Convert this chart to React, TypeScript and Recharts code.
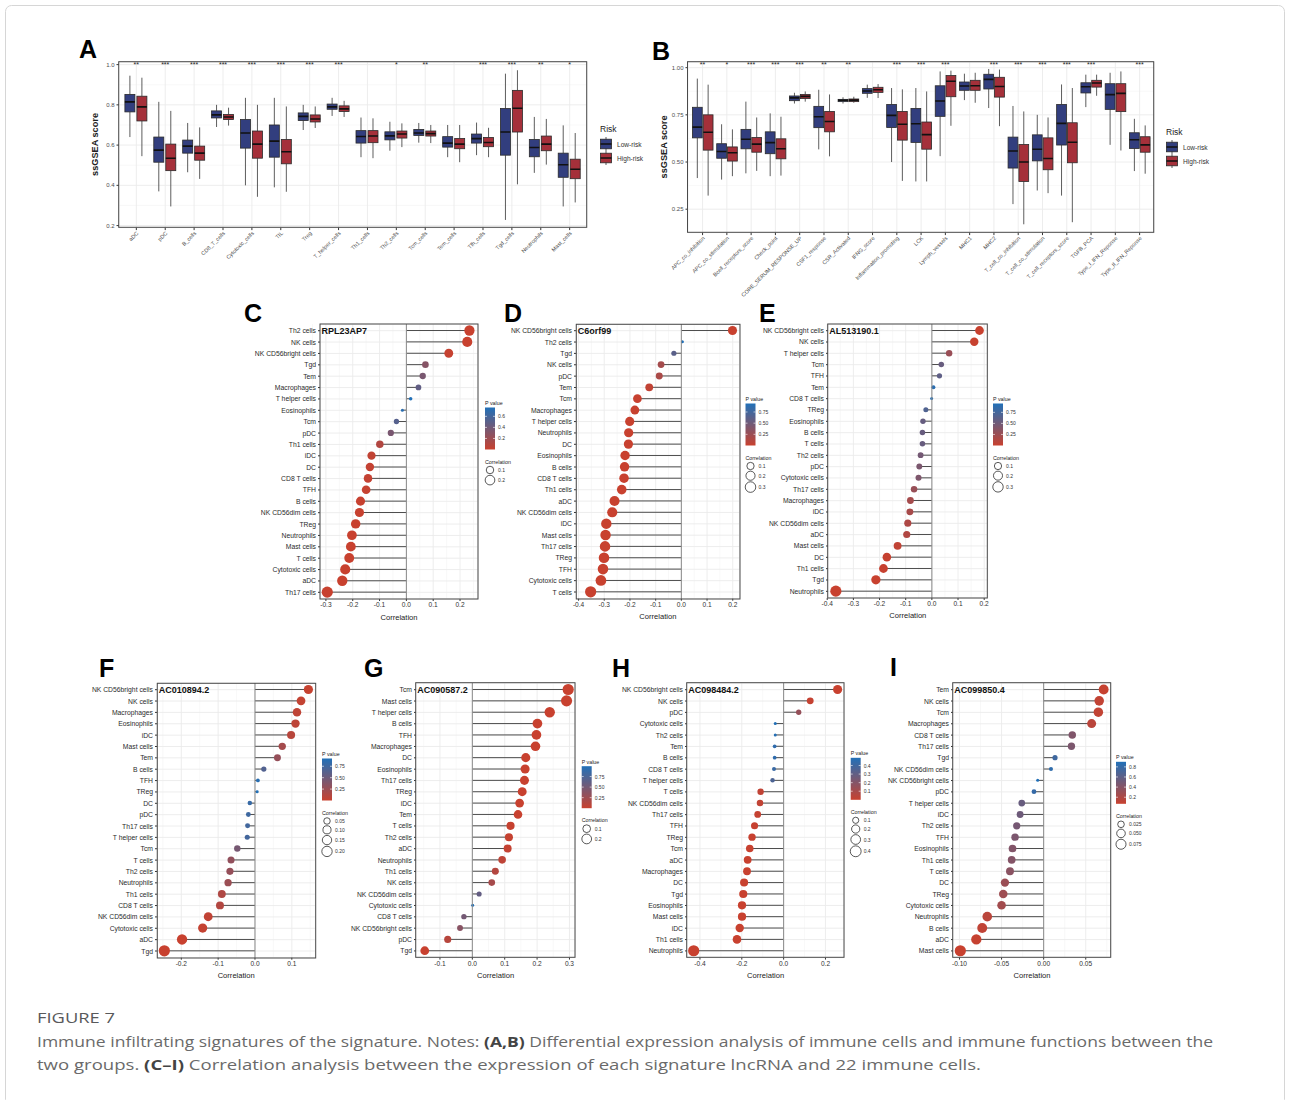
import React from "react";
import { BarChart, Bar, XAxis, YAxis, CartesianGrid, ReferenceLine, ReferenceDot } from "recharts";

const FONT = "'Liberation Sans', Arial, Helvetica, sans-serif";
const LOW_FILL = "#323e7e";
const HIGH_FILL = "#a5303a";

// ---------- A: immune cells, ssGSEA score boxplots ([min, q1, median, q3, max]) ----------
const cellTypes = [
  "aDC", "pDC", "B_cells", "CD8_T_cells", "Cytotoxic_cells", "TIL", "Treg", "T_helper_cells",
  "Th1_cells", "Th2_cells", "Tcm_cells", "Tem_cells", "Tfh_cells", "Tgd_cells", "Neutrophils", "Mast_cells",
];
const cellStars = ["**", "***", "***", "***", "***", "***", "***", "***", "", "*", "**", "", "***", "***", "**", "*"];
const cellLow = [
  [0.64, 0.765, 0.815, 0.852, 0.945],
  [0.37, 0.515, 0.575, 0.64, 0.815],
  [0.465, 0.56, 0.595, 0.625, 0.71],
  [0.69, 0.735, 0.75, 0.77, 0.8],
  [0.4, 0.585, 0.66, 0.727, 0.835],
  [0.39, 0.54, 0.62, 0.7, 0.835],
  [0.675, 0.722, 0.743, 0.76, 0.8],
  [0.745, 0.778, 0.79, 0.804, 0.835],
  [0.54, 0.61, 0.643, 0.672, 0.737],
  [0.572, 0.626, 0.646, 0.666, 0.716],
  [0.612, 0.648, 0.66, 0.678, 0.71],
  [0.54, 0.59, 0.61, 0.642, 0.7],
  [0.55, 0.61, 0.632, 0.655, 0.712],
  [0.228, 0.55, 0.665, 0.782, 0.955],
  [0.462, 0.542, 0.588, 0.628, 0.74],
  [0.295, 0.44, 0.502, 0.56, 0.698],
];
const cellHigh = [
  [0.545, 0.72, 0.79, 0.843, 0.935],
  [0.295, 0.473, 0.535, 0.605, 0.77],
  [0.432, 0.525, 0.56, 0.595, 0.688],
  [0.697, 0.727, 0.74, 0.752, 0.786],
  [0.343, 0.535, 0.605, 0.67, 0.8],
  [0.368, 0.507, 0.567, 0.628, 0.792],
  [0.685, 0.715, 0.73, 0.75, 0.792],
  [0.74, 0.767, 0.78, 0.795, 0.82],
  [0.535, 0.612, 0.645, 0.672, 0.733],
  [0.59, 0.635, 0.655, 0.67, 0.708],
  [0.61, 0.645, 0.657, 0.67, 0.7],
  [0.515, 0.582, 0.605, 0.633, 0.7],
  [0.54, 0.592, 0.613, 0.638, 0.686],
  [0.405, 0.665, 0.783, 0.872, 0.972],
  [0.503, 0.572, 0.605, 0.645, 0.73],
  [0.315, 0.433, 0.48, 0.53, 0.66],
];

// ---------- B: immune functions ----------
const funcTypes = [
  "APC_co_inhibition", "APC_co_stimulation", "Bcell_receptors_score", "Check_point", "CORE_SERUM_RESPONSE_UP",
  "CSF1_response", "CSR_Activated", "IFNG_score", "Inflammation_promoting", "LCK", "Lymph_vessels", "MHC1", "MHC2",
  "T_cell_co_inhibition", "T_cell_co_stimulation", "T_cell_receptors_score", "TGFB_PCA", "Type_I_IFN_Reponse",
  "Type_II_IFN_Reponse",
];
const funcStars = ["**", "*", "***", "***", "***", "**", "**", "", "***", "***", "***", "", "***", "***", "***", "***", "***", "", "***"];
const funcLow = [
  [0.415, 0.628, 0.685, 0.79, 0.942],
  [0.407, 0.52, 0.556, 0.597, 0.7],
  [0.44, 0.57, 0.621, 0.673, 0.82],
  [0.425, 0.544, 0.603, 0.66, 0.758],
  [0.81, 0.825, 0.84, 0.85, 0.867],
  [0.567, 0.682, 0.74, 0.795, 0.883],
  [0.81, 0.82, 0.827, 0.832, 0.843],
  [0.84, 0.864, 0.876, 0.889, 0.91],
  [0.5, 0.683, 0.747, 0.805, 0.892],
  [0.397, 0.604, 0.703, 0.784, 0.892],
  [0.531, 0.742, 0.823, 0.904, 0.98],
  [0.828, 0.88, 0.903, 0.924, 0.968],
  [0.786, 0.887, 0.938, 0.965, 0.993],
  [0.277, 0.468, 0.558, 0.632, 0.797],
  [0.349, 0.506, 0.568, 0.644, 0.75],
  [0.322, 0.59, 0.705, 0.805, 0.911],
  [0.791, 0.866, 0.899, 0.92, 0.963],
  [0.591, 0.779, 0.857, 0.915, 0.973],
  [0.452, 0.572, 0.618, 0.655, 0.729],
];
const funcHigh = [
  [0.322, 0.563, 0.658, 0.75, 0.91],
  [0.425, 0.505, 0.549, 0.58, 0.673],
  [0.453, 0.552, 0.595, 0.63, 0.736],
  [0.428, 0.517, 0.57, 0.623, 0.74],
  [0.82, 0.836, 0.848, 0.858, 0.874],
  [0.53, 0.66, 0.715, 0.768, 0.858],
  [0.814, 0.82, 0.828, 0.834, 0.846],
  [0.839, 0.869, 0.883, 0.896, 0.913],
  [0.4, 0.616, 0.7, 0.768, 0.885],
  [0.397, 0.568, 0.645, 0.712, 0.874],
  [0.692, 0.846, 0.928, 0.958, 0.984],
  [0.814, 0.88, 0.904, 0.933, 0.973],
  [0.69, 0.844, 0.9, 0.949, 0.99],
  [0.17, 0.397, 0.5, 0.593, 0.768],
  [0.335, 0.459, 0.519, 0.628, 0.736],
  [0.181, 0.496, 0.605, 0.708, 0.892],
  [0.851, 0.897, 0.919, 0.933, 0.963],
  [0.561, 0.767, 0.864, 0.915, 0.98],
  [0.438, 0.552, 0.591, 0.634, 0.694],
];

// ---------- C-I: lncRNA vs immune cell correlation ----------
const rplCells = ["Th2 cells", "NK cells", "NK CD56bright cells", "Tgd", "Tem", "Macrophages", "T helper cells", "Eosinophils", "Tcm", "pDC", "Th1 cells", "iDC", "DC", "CD8 T cells", "TFH", "B cells", "NK CD56dim cells", "TReg", "Neutrophils", "Mast cells", "T cells", "Cytotoxic cells", "aDC", "Th17 cells"];
const rplCor = [0.235, 0.227, 0.158, 0.071, 0.061, 0.045, 0.016, -0.015, -0.037, -0.058, -0.099, -0.13, -0.136, -0.143, -0.15, -0.171, -0.175, -0.189, -0.203, -0.207, -0.213, -0.228, -0.239, -0.295];
const rplP = [0.001, 0.001, 0.01, 0.3, 0.36, 0.47, 0.76, 0.72, 0.52, 0.36, 0.1, 0.03, 0.02, 0.02, 0.01, 0.005, 0.005, 0.002, 0.001, 0.001, 0.001, 0, 0, 0];

const c6Cells = ["NK CD56bright cells", "Th2 cells", "Tgd", "NK cells", "pDC", "Tem", "Tcm", "Macrophages", "T helper cells", "Neutrophils", "DC", "Eosinophils", "B cells", "CD8 T cells", "Th1 cells", "aDC", "NK CD56dim cells", "iDC", "Mast cells", "Th17 cells", "TReg", "TFH", "Cytotoxic cells", "T cells"];
const c6Cor = [0.199, 0.004, -0.029, -0.079, -0.086, -0.125, -0.171, -0.181, -0.201, -0.205, -0.206, -0.219, -0.221, -0.223, -0.232, -0.26, -0.269, -0.292, -0.295, -0.297, -0.301, -0.305, -0.313, -0.353];
const c6P = [0, 0.94, 0.62, 0.2, 0.17, 0.04, 0.005, 0.003, 0.001, 0.001, 0.001, 0, 0, 0, 0, 0, 0, 0, 0, 0, 0, 0, 0, 0];

const al5Cells = ["NK CD56bright cells", "NK cells", "T helper cells", "Tcm", "TFH", "Tem", "CD8 T cells", "TReg", "Eosinophils", "B cells", "T cells", "Th2 cells", "pDC", "Cytotoxic cells", "Th17 cells", "Macrophages", "iDC", "NK CD56dim cells", "aDC", "Mast cells", "DC", "Th1 cells", "Tgd", "Neutrophils"];
const al5Cor = [0.182, 0.162, 0.066, 0.036, 0.029, 0.006, -0.001, -0.023, -0.034, -0.036, -0.036, -0.043, -0.048, -0.051, -0.068, -0.082, -0.084, -0.092, -0.096, -0.131, -0.172, -0.185, -0.214, -0.367];
const al5P = [0.001, 0.003, 0.27, 0.55, 0.6, 0.9, 0.95, 0.68, 0.56, 0.55, 0.55, 0.48, 0.44, 0.42, 0.28, 0.2, 0.19, 0.15, 0.13, 0.04, 0.01, 0.005, 0.001, 0];

const ac01Cells = ["NK CD56bright cells", "NK cells", "Macrophages", "Eosinophils", "iDC", "Mast cells", "Tem", "B cells", "TFH", "TReg", "DC", "pDC", "Th17 cells", "T helper cells", "Tcm", "T cells", "Th2 cells", "Neutrophils", "Th1 cells", "CD8 T cells", "NK CD56dim cells", "Cytotoxic cells", "aDC", "Tgd"];
const ac01Cor = [0.145, 0.125, 0.114, 0.11, 0.098, 0.074, 0.061, 0.024, 0.008, 0.006, -0.014, -0.018, -0.02, -0.021, -0.048, -0.065, -0.068, -0.073, -0.09, -0.095, -0.127, -0.142, -0.198, -0.246];
const ac01P = [0.01, 0.03, 0.05, 0.06, 0.09, 0.2, 0.28, 0.65, 0.88, 0.92, 0.8, 0.76, 0.74, 0.73, 0.45, 0.3, 0.28, 0.25, 0.14, 0.12, 0.04, 0.02, 0.001, 0];

const ac09Cells = ["Tcm", "Mast cells", "T helper cells", "B cells", "TFH", "Macrophages", "DC", "Eosinophils", "Th17 cells", "TReg", "iDC", "Tem", "T cells", "Th2 cells", "aDC", "Neutrophils", "Th1 cells", "NK cells", "NK CD56dim cells", "Cytotoxic cells", "CD8 T cells", "NK CD56bright cells", "pDC", "Tgd"];
const ac09Cor = [0.296, 0.291, 0.239, 0.201, 0.198, 0.195, 0.165, 0.163, 0.161, 0.154, 0.146, 0.141, 0.118, 0.113, 0.109, 0.092, 0.071, 0.06, 0.021, 0.001, -0.026, -0.038, -0.076, -0.147];
const ac09P = [0, 0, 0, 0, 0, 0, 0.001, 0.001, 0.001, 0.001, 0.002, 0.002, 0.01, 0.015, 0.02, 0.06, 0.12, 0.2, 0.6, 0.995, 0.5, 0.38, 0.1, 0.002];

const ac98Cells = ["NK CD56bright cells", "NK cells", "pDC", "Cytotoxic cells", "Th2 cells", "Tem", "B cells", "CD8 T cells", "T helper cells", "T cells", "NK CD56dim cells", "Th17 cells", "TFH", "TReg", "Tcm", "aDC", "Macrophages", "DC", "Tgd", "Eosinophils", "Mast cells", "iDC", "Th1 cells", "Neutrophils"];
const ac98Cor = [0.258, 0.127, 0.072, -0.04, -0.04, -0.043, -0.043, -0.046, -0.053, -0.11, -0.113, -0.124, -0.139, -0.151, -0.162, -0.172, -0.175, -0.189, -0.193, -0.199, -0.199, -0.21, -0.223, -0.43];
const ac98P = [0, 0.01, 0.15, 0.49, 0.48, 0.45, 0.45, 0.42, 0.36, 0.02, 0.02, 0.01, 0.005, 0.003, 0.002, 0.001, 0.001, 0, 0, 0, 0, 0, 0, 0];

const ac99Cells = ["Tem", "NK cells", "Tcm", "Macrophages", "CD8 T cells", "Th17 cells", "Tgd", "NK CD56dim cells", "NK CD56bright cells", "pDC", "T helper cells", "iDC", "Th2 cells", "TFH", "Eosinophils", "Th1 cells", "T cells", "DC", "TReg", "Cytotoxic cells", "Neutrophils", "B cells", "aDC", "Mast cells"];
const ac99Cor = [0.0713, 0.066, 0.065, 0.057, 0.034, 0.033, 0.0135, 0.0087, -0.0071, -0.0115, -0.026, -0.028, -0.032, -0.034, -0.037, -0.038, -0.04, -0.046, -0.048, -0.05, -0.067, -0.073, -0.08, -0.099];
const ac99P = [0.08, 0.1, 0.1, 0.14, 0.43, 0.45, 0.75, 0.83, 0.9, 0.8, 0.55, 0.52, 0.48, 0.45, 0.42, 0.41, 0.38, 0.3, 0.28, 0.26, 0.14, 0.11, 0.08, 0.07];

type LolliSpec = {
  key: string; gene: string; cells: string[]; cor: number[]; p: number[];
  plot: number[]; domain: number[]; ticks: number[]; minor: number[]; digits: number;
  legend: number[]; pTicks: number[]; pDigits: number; sizeBreaks: number[]; sizeDigits: number;
};

const step1 = [-0.4, -0.3, -0.2, -0.1, 0, 0.1, 0.2];
const minor1 = [-0.35, -0.25, -0.15, -0.05, 0.05, 0.15, 0.25];

const lollis: LolliSpec[] = [
  { key: "C", gene: "RPL23AP7", cells: rplCells, cor: rplCor, p: rplP, plot: [320, 324, 158, 275], domain: [-0.322, 0.267], ticks: step1.slice(1), minor: minor1, digits: 1, legend: [485, 403], pTicks: [0.2, 0.4, 0.6], pDigits: 1, sizeBreaks: [0.1, 0.2], sizeDigits: 1 },
  { key: "D", gene: "C6orf99", cells: c6Cells, cor: c6Cor, p: c6P, plot: [576.3, 324.3, 163.7, 274.7], domain: [-0.41, 0.227], ticks: step1, minor: minor1, digits: 1, legend: [745.5, 399], pTicks: [0.25, 0.5, 0.75], pDigits: 2, sizeBreaks: [0.1, 0.2, 0.3], sizeDigits: 1 },
  { key: "E", gene: "AL513190.1", cells: al5Cells, cor: al5Cor, p: al5P, plot: [827.7, 324, 159.6, 274], domain: [-0.397, 0.213], ticks: step1, minor: minor1, digits: 1, legend: [993, 399], pTicks: [0.25, 0.5, 0.75], pDigits: 2, sizeBreaks: [0.1, 0.2, 0.3], sizeDigits: 1 },
  { key: "F", gene: "AC010894.2", cells: ac01Cells, cor: ac01Cor, p: ac01P, plot: [157.3, 683.3, 158.4, 274.7], domain: [-0.266, 0.164], ticks: [-0.2, -0.1, 0, 0.1], minor: [-0.25, -0.15, -0.05, 0.05, 0.15], digits: 1, legend: [322, 754], pTicks: [0.25, 0.5, 0.75], pDigits: 2, sizeBreaks: [0.05, 0.1, 0.15, 0.2], sizeDigits: 2 },
  { key: "G", gene: "AC090587.2", cells: ac09Cells, cor: ac09Cor, p: ac09P, plot: [415.7, 682.7, 159.3, 274.6], domain: [-0.174, 0.318], ticks: [-0.1, 0, 0.1, 0.2, 0.3], minor: [-0.15, -0.05, 0.05, 0.15, 0.25], digits: 1, legend: [581.7, 761.7], pTicks: [0.25, 0.5, 0.75], pDigits: 2, sizeBreaks: [0.1, 0.2], sizeDigits: 1 },
  { key: "H", gene: "AC098484.2", cells: ac98Cells, cor: ac98Cor, p: ac98P, plot: [686.7, 682.7, 157.3, 274.6], domain: [-0.462, 0.29], ticks: [-0.4, -0.2, 0, 0.2], minor: [-0.3, -0.1, 0.1], digits: 1, legend: [850.7, 753.3], pTicks: [0.1, 0.2, 0.3, 0.4], pDigits: 1, sizeBreaks: [0.1, 0.2, 0.3, 0.4], sizeDigits: 1 },
  { key: "I", gene: "AC099850.4", cells: ac99Cells, cor: ac99Cor, p: ac99P, plot: [952.7, 682.7, 158, 274.6], domain: [-0.1077, 0.08], ticks: [-0.1, -0.05, 0, 0.05], minor: [-0.075, -0.025, 0.025, 0.075], digits: 2, legend: [1116, 757.3], pTicks: [0.2, 0.4, 0.6, 0.8], pDigits: 1, sizeBreaks: [0.025, 0.05, 0.075], sizeDigits: 3 },
];

// red (small p) -> blue (large p)
const RED = [200, 65, 47];
const BLUE = [33, 112, 184];
function mix(t: number) {
  const k = Math.max(0, Math.min(1, t));
  const c = RED.map((r, i) => Math.round(r + (BLUE[i] - r) * k));
  return `rgb(${c[0]},${c[1]},${c[2]})`;
}
function colorScale(p: number[]) {
  const lo = Math.min(...p), hi = Math.max(...p);
  return (v: number) => mix((v - lo) / (hi - lo));
}
// point radius grows with |correlation| (area-like scaling)
function radiusScale(cor: number[]) {
  const a = cor.map(Math.abs);
  const lo = Math.min(...a), hi = Math.max(...a);
  return (v: number) => 1.5 + 4.1 * Math.sqrt(Math.max(0, (Math.abs(v) - lo) / (hi - lo)));
}

function Lollipop(props: any) {
  const { x, y, width, height, payload, r, color } = props;
  const cy = y + height / 2;
  const a = x, b = x + width;
  const pos = payload.cor >= 0;
  const zero = pos ? Math.min(a, b) : Math.max(a, b);
  const end = pos ? Math.max(a, b) : Math.min(a, b);
  return (
    <g>
      <line x1={zero} x2={end} y1={cy} y2={cy} stroke="#3b3b3b" strokeWidth={0.9} />
      <circle cx={end} cy={cy} r={r} fill={color} />
    </g>
  );
}

// plain single-line category label (no wrapping)
function CellTick(props: any) {
  const { x, y, payload } = props;
  return (
    <text x={x} y={y} textAnchor="end" dominantBaseline="central" fontSize={6.8} fill="#2b2b2b" fontFamily={FONT}>
      {payload.value}
    </text>
  );
}

function LollipopPanel({ s }: { s: LolliSpec }) {
  const [px, py, pw, ph] = s.plot;
  const data = s.cells.map((name, i) => ({ name, cor: s.cor[i], p: s.p[i] }));
  const rad = radiusScale(s.cor);
  const col = colorScale(s.p);
  return (
    <div style={{ position: "absolute", left: px - 90, top: py - 10 }}>
      <BarChart layout="vertical" width={pw + 95} height={ph + 40} data={data}
        margin={{ top: 10, right: 5, bottom: 0, left: 2 }} barCategoryGap={0}>
        <CartesianGrid horizontal={false} verticalValues={s.minor} stroke="#F3F3F3" strokeWidth={0.6} />
        <CartesianGrid stroke="#EBEBEB" strokeWidth={0.9} />
        <XAxis type="number" domain={s.domain} allowDataOverflow ticks={s.ticks} interval={0}
          tickFormatter={(v: number) => v.toFixed(s.digits)} height={30} axisLine={false}
          tickSize={2} tickMargin={1.5} tickLine={{ stroke: "#333" }}
          tick={{ fontSize: 6.6, fill: "#333", fontFamily: FONT }}
          label={{ value: "Correlation", position: "insideBottom", offset: 9.5, fontSize: 7.6, fill: "#222", fontFamily: FONT }} />
        <YAxis type="category" dataKey="name" width={88} interval={0} padding={{ top: 1, bottom: 1 }}
          axisLine={false} tickSize={2} tickMargin={2} tickLine={{ stroke: "#333" }} tick={<CellTick />} />
        <ReferenceLine x={0} stroke="#8a8a8a" strokeWidth={1} />
        <Bar dataKey="cor" isAnimationActive={false}
          shape={(b: any) => <Lollipop {...b} r={rad(b.payload.cor)} color={col(b.payload.p)} />} />
      </BarChart>
    </div>
  );
}

function PLegend({ s }: { s: LolliSpec }) {
  const [lx, ly] = s.legend;
  const lo = Math.min(...s.p), hi = Math.max(...s.p);
  const barTop = ly + 4.5, barH = 42, barW = 10;
  const barBot = barTop + barH;
  const yOf = (v: number) => barBot - ((v - lo) / (hi - lo)) * barH;
  const rad = radiusScale(s.cor);
  const titleY = barBot + 12;
  const radii = s.sizeBreaks.map(rad);
  const ys: number[] = [];
  radii.forEach((r, i) => {
    ys.push(i === 0 ? titleY + 8.5 : ys[i - 1] + radii[i - 1] + r + 1.5);
  });
  const gid = `pgrad-${s.key}`;
  return (
    <g fontFamily={FONT}>
      <defs>
        <linearGradient id={gid} x1="0" y1="1" x2="0" y2="0">
          <stop offset="0" stopColor={mix(0)} />
          <stop offset="0.5" stopColor={mix(0.5)} />
          <stop offset="1" stopColor={mix(1)} />
        </linearGradient>
      </defs>
      <text x={lx} y={ly} fontSize={5.3} fill="#222" dominantBaseline="central">P value</text>
      <rect x={lx} y={barTop} width={barW} height={barH} fill={`url(#${gid})`} />
      {s.pTicks.map((t) => (
        <g key={t}>
          <line x1={lx} x2={lx + 2} y1={yOf(t)} y2={yOf(t)} stroke="#fff" strokeWidth={0.6} />
          <line x1={lx + barW - 2} x2={lx + barW} y1={yOf(t)} y2={yOf(t)} stroke="#fff" strokeWidth={0.6} />
          <text x={lx + 13} y={yOf(t)} fontSize={5} fill="#333" dominantBaseline="central">{t.toFixed(s.pDigits)}</text>
        </g>
      ))}
      <text x={lx} y={titleY} fontSize={5.3} fill="#222" dominantBaseline="central">Correlation</text>
      {s.sizeBreaks.map((b, i) => (
        <g key={b}>
          <circle cx={lx + 5} cy={ys[i]} r={radii[i]} fill="none" stroke="#111" strokeWidth={0.7} />
          <text x={lx + 13} y={ys[i]} fontSize={5} fill="#333" dominantBaseline="central">{b.toFixed(s.sizeDigits)}</text>
        </g>
      ))}
    </g>
  );
}

// ---------- boxplots ----------
type BoxSpec = {
  key: string; cats: string[]; stars: string[]; low: number[][]; high: number[][];
  plot: number[]; domain: number[]; ticks: number[]; minor: number[]; digits: number;
  barSize: number; barGap: number; starY: number; legend: number[];
};

const boxes: BoxSpec[] = [
  { key: "A", cats: cellTypes, stars: cellStars, low: cellLow, high: cellHigh, plot: [118.7, 61.7, 468, 165.6], domain: [0.19, 1.013], ticks: [0.2, 0.4, 0.6, 0.8, 1.0], minor: [0.3, 0.5, 0.7, 0.9], digits: 1, barSize: 10, barGap: 2, starY: 1.0, legend: [600, 129] },
  { key: "B", cats: funcTypes, stars: funcStars, low: funcLow, high: funcHigh, plot: [687.5, 61.7, 466.2, 170.6], domain: [0.126, 1.03], ticks: [0.25, 0.5, 0.75, 1.0], minor: [0.375, 0.625, 0.875], digits: 2, barSize: 9.8, barGap: 1, starY: 1.017, legend: [1166, 132] },
];

const lowRange = (d: any) => [d.low[0], d.low[4]];
const highRange = (d: any) => [d.high[0], d.high[4]];

function BoxGlyph(props: any) {
  const { x, y, width, height, stats, color } = props;
  const [mn, q1, md, q3, mx] = stats;
  const top = Math.min(y, y + height);
  const span = Math.abs(height);
  const py = (v: number) => top + ((mx - v) / (mx - mn)) * span;
  const cx = x + width / 2;
  return (
    <g>
      <line x1={cx} x2={cx} y1={py(mx)} y2={py(q3)} stroke="#333" strokeWidth={0.8} />
      <line x1={cx} x2={cx} y1={py(q1)} y2={py(mn)} stroke="#333" strokeWidth={0.8} />
      <rect x={x} y={py(q3)} width={width} height={py(q1) - py(q3)} fill={color} stroke="#2a2a2a" strokeWidth={0.8} />
      <line x1={x} x2={x + width} y1={py(md)} y2={py(md)} stroke="#111" strokeWidth={1.6} />
    </g>
  );
}

function SlantTick(props: any) {
  const { x, y, payload } = props;
  return (
    <text x={x} y={y} transform={`rotate(-45, ${x}, ${y})`} textAnchor="end" dy={3.6}
      fontSize={5.5} fill="#4d4d4d" fontFamily={FONT}>
      {payload.value}
    </text>
  );
}

function BoxPanel({ s }: { s: BoxSpec }) {
  const [px, py, pw, ph] = s.plot;
  const data = s.cats.map((name, i) => ({ name, low: s.low[i], high: s.high[i] }));
  const pad = (pw / (s.cats.length + 0.2)) * 0.1;
  return (
    <div style={{ position: "absolute", left: px - 40, top: py - 2 }}>
      <BarChart width={pw + 42} height={ph + 72} data={data} margin={{ top: 2, right: 2, left: 10, bottom: 0 }}
        barSize={s.barSize} barGap={s.barGap}>
        <CartesianGrid vertical={false} horizontalValues={s.minor} stroke="#F3F3F3" strokeWidth={0.6} />
        <CartesianGrid stroke="#EBEBEB" strokeWidth={0.9} />
        <XAxis dataKey="name" height={70} interval={0} padding={{ left: pad, right: pad }} tick={<SlantTick />}
          tickSize={2.5} tickMargin={1} tickLine={{ stroke: "#333" }} axisLine={false} />
        <YAxis type="number" domain={s.domain} allowDataOverflow ticks={s.ticks} width={30} interval={0}
          tickFormatter={(v: number) => v.toFixed(s.digits)} axisLine={false} tickSize={2.5} tickMargin={2}
          tickLine={{ stroke: "#333" }} tick={{ fontSize: 6, fill: "#4d4d4d", fontFamily: FONT }} />
        <Bar dataKey={lowRange} fill={LOW_FILL} isAnimationActive={false}
          shape={(b: any) => <BoxGlyph {...b} stats={b.payload.low} color={LOW_FILL} />} />
        <Bar dataKey={highRange} fill={HIGH_FILL} isAnimationActive={false}
          shape={(b: any) => <BoxGlyph {...b} stats={b.payload.high} color={HIGH_FILL} />} />
        {s.stars.map((st, i) => st ? (
          <ReferenceDot key={s.cats[i]} x={s.cats[i]} y={s.starY} r={0} stroke="none"
            label={{ value: st, position: "center", fontSize: 7, fill: "#222", fontFamily: FONT }} />
        ) : null)}
      </BarChart>
    </div>
  );
}

function RiskLegend({ s }: { s: BoxSpec }) {
  const [lx, ly] = s.legend;
  const key = (cy: number, color: string, label: string) => (
    <g key={label}>
      <line x1={lx + 6} x2={lx + 6} y1={cy - 7} y2={cy + 7} stroke="#333" strokeWidth={0.8} />
      <rect x={lx + 0.5} y={cy - 4.8} width={11} height={9.6} fill={color} stroke="#2a2a2a" strokeWidth={0.8} />
      <line x1={lx + 0.5} x2={lx + 11.5} y1={cy} y2={cy} stroke="#111" strokeWidth={1.5} />
      <text x={lx + 17} y={cy} fontSize={6.6} fill="#333" dominantBaseline="central">{label}</text>
    </g>
  );
  return (
    <g fontFamily={FONT}>
      <text x={lx} y={ly} fontSize={8.5} fill="#222" dominantBaseline="central">Risk</text>
      {key(ly + 15, LOW_FILL, "Low-risk")}
      {key(ly + 29, HIGH_FILL, "High-risk")}
    </g>
  );
}

const panelLetters: [string, number, number][] = [
  ["A", 79, 58], ["B", 652, 60], ["C", 244, 322], ["D", 504, 322], ["E", 759, 322],
  ["F", 99, 677], ["G", 364, 677], ["H", 612, 677], ["I", 890, 676],
];

function Overlay() {
  return (
    <svg width={1290} height={1100} style={{ position: "absolute", left: 0, top: 0, pointerEvents: "none" }}>
      <rect x={5.5} y={5.5} width={1279} height={1100} rx={6} fill="none" stroke="#d6d6d6" strokeWidth={1} />
      {panelLetters.map(([t, x, y]) => (
        <text key={t} x={x} y={y} fontFamily={FONT} fontWeight="bold" fontSize={25} fill="#000">{t}</text>
      ))}
      {boxes.map((s) => {
        const [px, py, pw, ph] = s.plot;
        return (
          <g key={s.key}>
            <rect x={px} y={py} width={pw} height={ph} fill="none" stroke="#4a4a4a" strokeWidth={1} />
            <text transform={`translate(${px - 21}, ${py + ph / 2}) rotate(-90)`} textAnchor="middle"
              fontFamily={FONT} fontWeight="bold" fontSize={9.2} fill="#222">ssGSEA score</text>
            <RiskLegend s={s} />
          </g>
        );
      })}
      {lollis.map((s) => {
        const [px, py, pw, ph] = s.plot;
        return (
          <g key={s.key}>
            <rect x={px} y={py} width={pw} height={ph} fill="none" stroke="#4a4a4a" strokeWidth={1} />
            <text x={px + 1.5} y={py + 10} fontFamily={FONT} fontWeight="bold" fontSize={9} fill="#111">{s.gene}</text>
            <PLegend s={s} />
          </g>
        );
      })}
      <g fontFamily="'Open Sans', 'Noto Sans', sans-serif">
        <text x={37} y={1023} fontSize={14} fill="#58595b" textLength={78} lengthAdjust="spacingAndGlyphs">FIGURE 7</text>
        <text x={37} y={1047} fontSize={15} fill="#6a6a6a" textLength={1176} lengthAdjust="spacingAndGlyphs">
          Immune infiltrating signatures of the signature. Notes: <tspan fontWeight="bold" fill="#444">(A,B)</tspan> Differential expression analysis of immune cells and immune functions between the
        </text>
        <text x={37} y={1070} fontSize={15} fill="#6a6a6a" textLength={944} lengthAdjust="spacingAndGlyphs">
          two groups. <tspan fontWeight="bold" fill="#444">(C–I)</tspan> Correlation analysis between the expression of each signature lncRNA and 22 immune cells.
        </text>
      </g>
    </svg>
  );
}

export default function App() {
  return (
    <div style={{ position: "absolute", left: 0, top: 0, width: 1290, height: 1100, background: "#fff", overflow: "hidden" }}>
      {boxes.map((s) => <BoxPanel key={s.key} s={s} />)}
      {lollis.map((s) => <LollipopPanel key={s.key} s={s} />)}
      <Overlay />
    </div>
  );
}
